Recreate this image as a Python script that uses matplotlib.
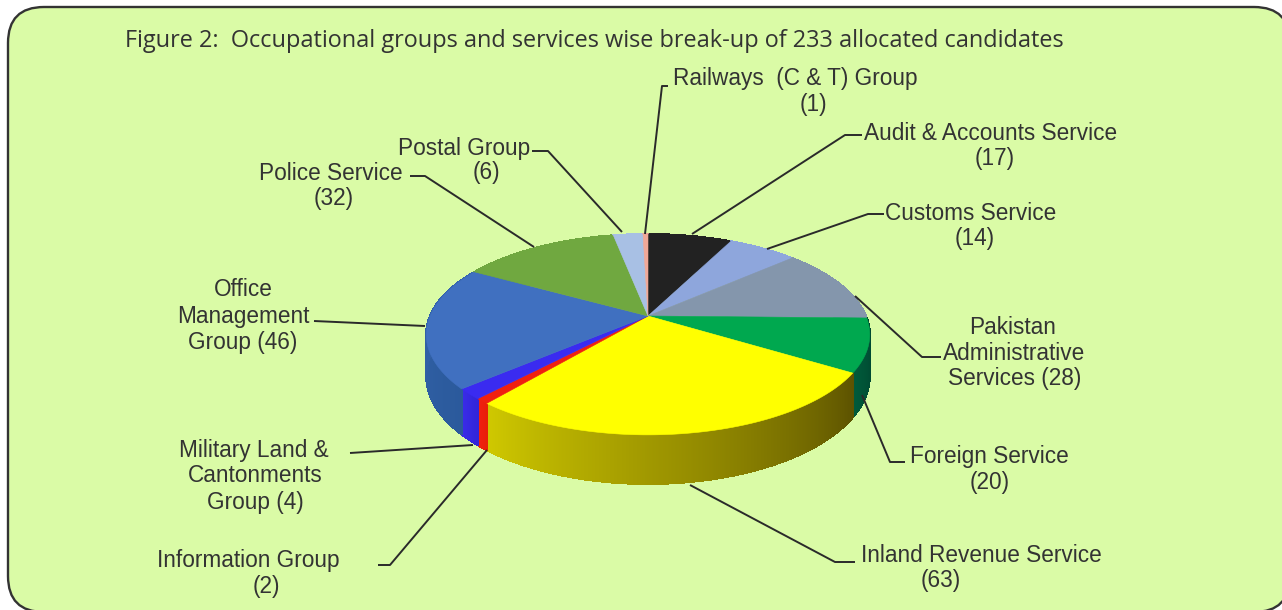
import numpy as np
import matplotlib
matplotlib.use('Agg')
import matplotlib.pyplot as plt
from matplotlib.collections import PolyCollection
from matplotlib.colors import to_rgb
from matplotlib.patches import FancyBboxPatch, Polygon

# Slices, clockwise from 12 o'clock
labels = [['Audit & Accounts Service', '(17)'], ['Customs Service', '(14)'],
          ['Pakistan', 'Administrative', 'Services (28)'], ['Foreign Service', '(20)'],
          ['Inland Revenue Service', '(63)'], ['Information Group', '(2)'],
          ['Military Land &', 'Cantonments', 'Group (4)'], ['Office', 'Management', 'Group (46)'],
          ['Police Service', '(32)'], ['Postal Group', '(6)'], ['Railways  (C & T) Group', '(1)']]
values = [17, 14, 28, 20, 63, 2, 4, 46, 32, 6, 1]
top_colors = ['#222222', '#8ea6dc', '#8496ac', '#00a84f', '#ffff00', '#f02010',
              '#3a2bf0', '#4070c0', '#70a840', '#a8c0e4', '#f0a898']
side_left = ['#222222', '#8ea6dc', '#8496ac', '#005a3a', '#cfc800', '#f02010',
             '#3a2be8', '#3565ae', '#70a840', '#a8c0e4', '#f0a898']
side_right = ['#222222', '#8ea6dc', '#8496ac', '#003f2c', '#5c5200', '#e82008',
              '#3025d8', '#2b5a9c', '#70a840', '#a8c0e4', '#f0a898']

title = 'Figure 2:  Occupational groups and services wise break-up of 233 allocated candidates'
bg = '#dafba6'
ink = '#333333'

# centre of every label line in image pixels
label_pos = [[(991, 134), (995, 158)], [(971, 213), (975, 238)],
             [(1013, 328), (1014, 353), (1015, 379)], [(989, 457), (990, 483)],
             [(981, 555), (941, 581)], [(248, 560), (266, 586)],
             [(254, 450), (255, 476), (255, 502)], [(243, 290), (243, 316), (243, 342)],
             [(331, 173), (334, 198)], [(464, 148), (486, 173)], [(795, 79), (813, 104)]]

# leader lines in image pixels
leaders = [[(862, 135), (845, 135), (692, 234)],
           [(884, 214), (868, 214), (767, 249)],
           [(941, 357), (922, 357), (855, 296)],
           [(905, 462), (890, 462), (862, 395)],
           [(855, 562), (835, 562), (690, 485)],
           [(378, 565), (390, 565), (487, 450)],
           [(350, 453), (473, 445)],
           [(314, 321), (425, 326)],
           [(410, 176), (425, 176), (534, 247)],
           [(532, 151), (548, 151), (622, 232)],
           [(668, 86), (662, 86), (645, 234)]]

# pie projection
cx, cy = 648, 316
rx, ry = 218, 97
persp = 0.184
depth = 40


def rim(theta):
    # point on the tilted circle, theta clockwise from 12 o'clock
    u, v = np.sin(theta), -np.cos(theta)
    w = 1 - persp * v
    return cx + rx * u / w, cy + ry * v / w, w


fig = plt.figure(figsize=(12.82, 6.10), dpi=100)
ax = fig.add_axes([0, 0, 1, 1])
ax.set_xlim(0, 1282)
ax.set_ylim(610, 0)
ax.axis('off')

ax.add_patch(FancyBboxPatch((8, 7), 1282, 605, boxstyle='round,pad=0,rounding_size=36',
                            fc=bg, ec='#333333', lw=1.7))

edges = np.deg2rad(np.concatenate([[0], np.cumsum(values)]) * 360 / sum(values))

# side wall first, the top faces cover the back part
for i in range(len(values)):
    th = np.linspace(edges[i], edges[i + 1], max(3, values[i] * 5))
    x, y, w = rim(th)
    c0, c1 = np.array(to_rgb(side_left[i])), np.array(to_rgb(side_right[i]))
    polys, cols = [], []
    for j in range(len(th) - 1):
        polys.append([(x[j], y[j]), (x[j + 1], y[j + 1]),
                      (x[j + 1], y[j + 1] + depth / w[j + 1]), (x[j], y[j] + depth / w[j])])
        t = 1 - j / (len(th) - 2)
        cols.append(c0 + (c1 - c0) * t)
    ax.add_collection(PolyCollection(polys, facecolors=cols, edgecolors=cols, linewidths=0.8,
                                     antialiaseds=False))

for i in range(len(values)):
    th = np.linspace(edges[i], edges[i + 1], max(4, values[i] * 3))
    x, y, w = rim(th)
    pts = [(cx, cy)] + list(zip(x, y))
    ax.add_patch(Polygon(pts, closed=True, fc=top_colors[i], ec=top_colors[i], lw=0.4))

for line in leaders:
    xs, ys = zip(*line)
    ax.plot(xs, ys, color='#2a2a2a', lw=1.4, solid_capstyle='butt')

for lines, positions in zip(labels, label_pos):
    for text, (lx, ly) in zip(lines, positions):
        ax.text(lx, ly, text, ha='center', va='center', fontsize=16.3, color=ink,
                family='Liberation Sans')

ax.text(125, 41, title, ha='left', va='center', fontsize=16.9, color=ink, family='Open Sans')

fig.savefig('out.png', dpi=100)
